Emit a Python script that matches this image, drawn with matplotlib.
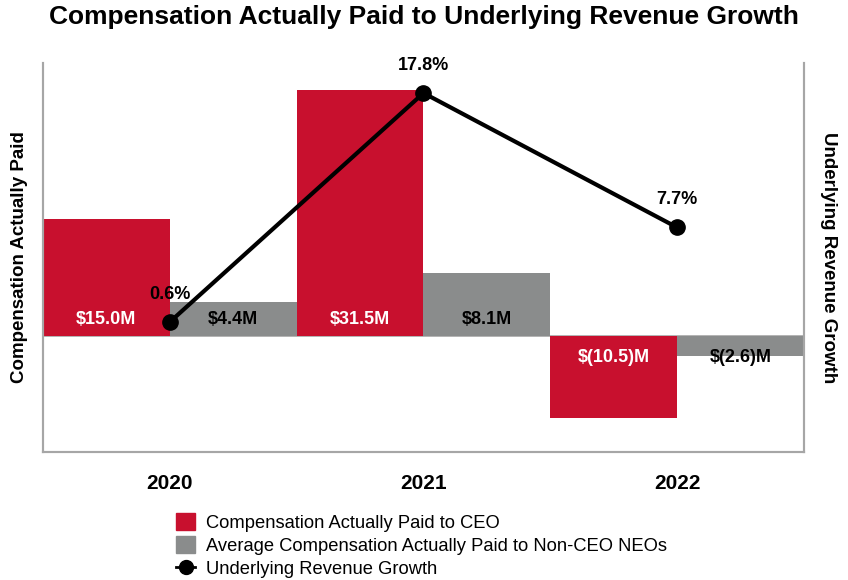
import matplotlib.pyplot as plt
import matplotlib.lines as mlines
import matplotlib.patches as mpatches
import numpy as np

plt.rcParams['font.family'] = ['Liberation Sans', 'DejaVu Sans']

years = ['2020', '2021', '2022']
ceo_cap = [15.0, 31.5, -10.5]
neo_cap = [4.4, 8.1, -2.6]
rev_growth = [0.6, 17.8, 7.7]
ceo_labels = ['$15.0M', '$31.5M', '$(10.5)M']
neo_labels = ['$4.4M', '$8.1M', '$(2.6)M']
growth_labels = ['0.6%', '17.8%', '7.7%']

red = '#C8102E'
grey = '#8A8C8C'
spine_col = '#A6A6A6'

fig = plt.figure(figsize=(8.48, 5.8), dpi=100)
ax = fig.add_axes([0.0507, 0.2207, 0.8974, 0.6707])
x = np.arange(len(years))

ax.bar(x - 0.25, ceo_cap, width=0.5, color=red, zorder=2)
ax.bar(x + 0.25, neo_cap, width=0.5, color=grey, zorder=2)
ax.axhline(0, color=spine_col, lw=1.2, zorder=1)

for i in range(len(years)):
    # labels sit a fixed distance from zero
    y_ceo = 2.1 if ceo_cap[i] > 0 else -2.8
    y_neo = 2.1 if neo_cap[i] > 0 else -2.8
    ax.text(x[i] - 0.25, y_ceo, ceo_labels[i], color='white', fontsize=13,
            fontweight='bold', ha='center', va='center', zorder=3)
    ax.text(x[i] + 0.25, y_neo, neo_labels[i], color='black', fontsize=13,
            fontweight='bold', ha='center', va='center', zorder=3)

ax.set_xlim(-0.5, 2.5)
ax.set_ylim(-14.9, 35)
ax.set_yticks([])
ax.set_xticks(x)
ax.set_xticklabels(years, fontsize=15, fontweight='bold')
ax.tick_params(axis='x', length=0, pad=16)
ax.spines['top'].set_visible(False)
for s in ['left', 'right', 'bottom']:
    ax.spines[s].set_color(spine_col)
    ax.spines[s].set_linewidth(1.5)
ax.set_ylabel('Compensation Actually Paid', fontsize=13.5, fontweight='bold', labelpad=11)

ax2 = ax.twinx()
ax2.plot(x, rev_growth, color='black', lw=3, marker='o', markersize=11, zorder=4)
for i in range(len(years)):
    ax2.annotate(growth_labels[i], (x[i], rev_growth[i]), xytext=(0, 20),
                 textcoords='offset points', ha='center', va='center',
                 fontsize=13, fontweight='bold')
ax2.set_ylim(-9.17, 20.06)
ax2.set_yticks([])
ax2.spines['top'].set_visible(False)
for s in ['left', 'right', 'bottom']:
    ax2.spines[s].set_color(spine_col)
    ax2.spines[s].set_linewidth(1.5)
ax2.set_ylabel('Underlying Revenue Growth', fontsize=13.5, fontweight='bold',
               rotation=270, labelpad=24)

fig.text(0.5, 0.971, 'Compensation Actually Paid to Underlying Revenue Growth',
         ha='center', va='center', fontsize=19, fontweight='bold')

handles = [
    mpatches.Patch(color=red, label='Compensation Actually Paid to CEO'),
    mpatches.Patch(color=grey, label='Average Compensation Actually Paid to Non-CEO NEOs'),
    mlines.Line2D([], [], color='black', marker='o', markersize=10, lw=2,
                  label='Underlying Revenue Growth'),
]
fig.legend(handles=handles, loc='upper left', bbox_to_anchor=(0.208, 0.115),
           frameon=False, fontsize=13.2, handlelength=1.0, handleheight=1.0,
           handletextpad=0.6, labelspacing=0.25, borderaxespad=0, borderpad=0)

fig.savefig('out.png', dpi=100)
